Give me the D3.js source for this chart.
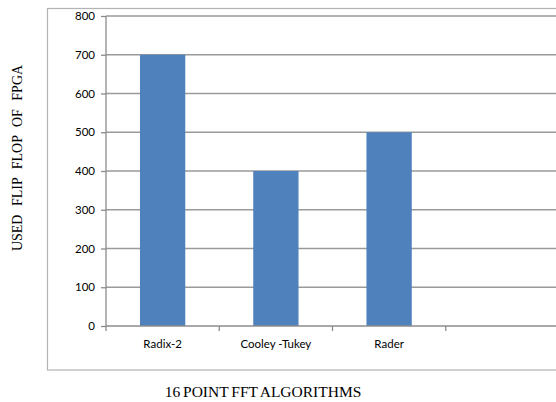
<!DOCTYPE html>
<html>
<head>
<meta charset="utf-8">
<script src="https://cdn.jsdelivr.net/npm/d3@7"></script>
<style>
  body { margin: 0; background: #fff; }
  svg { display: block; }
</style>
</head>
<body>
<svg width="556" height="402"></svg>
<script>
var categories = ['Radix-2', 'Cooley -Tukey', 'Rader', ''];
var values = [700, 400, 500, null];
var yTicks = [0, 100, 200, 300, 400, 500, 600, 700, 800];

var svg = d3.select('svg');

// outer chart frame
svg.append('rect')
    .attr('x', 47.5).attr('y', 8.5)
    .attr('width', 540).attr('height', 361.5)
    .attr('fill', 'none')
    .attr('stroke', '#b3b3b3')
    .attr('stroke-width', 1.2);

var x = d3.scaleBand().domain(categories).range([106, 559]).paddingInner(0).paddingOuter(0);
var y = d3.scaleLinear().domain([0, 800]).range([326, 16]);

// gridlines
svg.append('g').selectAll('line')
    .data(yTicks.filter(function (d) { return d > 0; }))
    .enter().append('line')
    .attr('x1', 106).attr('x2', 560)
    .attr('y1', function (d) { return y(d); })
    .attr('y2', function (d) { return y(d); })
    .attr('stroke', '#9a9a9a')
    .attr('stroke-width', 1.3);

// bars
var barW = x.bandwidth() * 0.4;
svg.append('g').selectAll('rect')
    .data(categories.filter(function (c, i) { return values[i] != null; }))
    .enter().append('rect')
    .attr('x', function (d) { return x(d) + (x.bandwidth() - barW) / 2; })
    .attr('width', barW)
    .attr('y', function (d) { return y(values[categories.indexOf(d)]); })
    .attr('height', function (d) { return y(0) - y(values[categories.indexOf(d)]); })
    .attr('fill', '#4f81bd');

// y axis
var yAxis = d3.axisLeft(y).tickValues(yTicks).tickSize(5).tickPadding(6);
var gy = svg.append('g').attr('transform', 'translate(106,0)').call(yAxis);
gy.select('.domain').attr('stroke', '#8c8c8c').attr('stroke-width', 1.3).attr('d', 'M0,' + y(800) + 'V' + y(0));
gy.selectAll('.tick line').attr('stroke', '#8c8c8c').attr('stroke-width', 1.3);
gy.selectAll('.tick text')
    .attr('font-family', 'Lato, "Open Sans", sans-serif')
    .attr('font-size', 11.5)
    .attr('fill', '#000');

// x axis
var xAxis = d3.axisBottom(x).tickSize(0).tickPadding(14);
var gx = svg.append('g').attr('transform', 'translate(0,326)').call(xAxis);
gx.select('.domain').attr('stroke', '#8c8c8c').attr('stroke-width', 1.3).attr('d', 'M106,0H560');
gx.selectAll('.tick text')
    .attr('font-family', 'Lato, "Open Sans", sans-serif')
    .attr('font-size', 11.5)
    .attr('fill', '#000');
gx.selectAll('.sep')
    .data(categories.concat(['end']))
    .enter().append('line')
    .attr('class', 'sep')
    .attr('x1', function (d, i) { return 106 + i * x.bandwidth(); })
    .attr('x2', function (d, i) { return 106 + i * x.bandwidth(); })
    .attr('y1', 0).attr('y2', 5)
    .attr('stroke', '#8c8c8c').attr('stroke-width', 1.3);

// axis titles
svg.append('text')
    .attr('x', 263).attr('y', 397)
    .attr('text-anchor', 'middle')
    .attr('font-family', '"Liberation Serif", "Times New Roman", serif')
    .attr('font-size', 15.5)
    .style('word-spacing', '-1px')
    .text('16 POINT FFT ALGORITHMS');

svg.append('text')
    .attr('transform', 'translate(22,158) rotate(-90)')
    .attr('text-anchor', 'middle')
    .attr('font-family', '"Liberation Serif", "Times New Roman", serif')
    .attr('font-size', 14)
    .style('word-spacing', '5px')
    .text('USED FLIP FLOP OF FPGA');
</script>
</body>
</html>
